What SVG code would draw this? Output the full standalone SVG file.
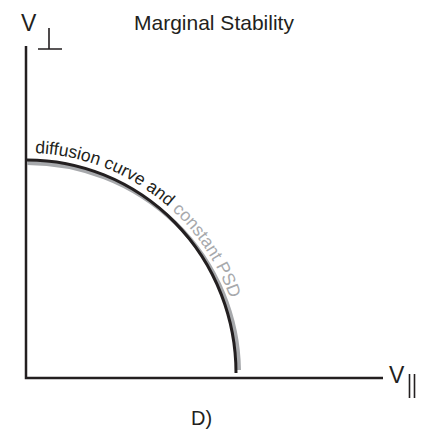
<svg xmlns="http://www.w3.org/2000/svg" width="422" height="431" viewBox="0 0 422 431">
<style>
.t{font-family:"Liberation Sans",Arial,sans-serif;fill:#231f20}
.axis{stroke:#231f20;stroke-width:2.5;fill:none}
.thin{stroke:#231f20;stroke-width:1.6;fill:none}
</style>
<defs>
<path id="tp" d="M27,153 A216,220 0 0 1 243,373"/>
</defs>
<rect width="422" height="431" fill="#fff"/>
<g id="title"><text class="t" x="134" y="30" font-size="21">Marginal Stability</text></g>
<g id="axes">
<path class="axis" d="M26,46 V378 H383"/>
</g>
<g id="vperp">
<text class="t" x="21" y="31" font-size="23">V</text>
<path class="thin" d="M49,28 V49 M38,49 H62"/>
</g>
<g id="vpar">
<text class="t" x="389" y="383" font-size="23">V</text>
<path class="thin" d="M409.5,374 V398 M414.5,374 V398"/>
</g>
<g id="curve">
<path d="M27,163 A212,210 0 0 1 239,370" stroke="#a7a9ac" stroke-width="4" fill="none"/>
<path d="M27,160 A209,213 0 0 1 236,373" stroke="#231f20" stroke-width="3" fill="none"/>
<text class="t" font-size="17.5"><textPath href="#tp" startOffset="8">diffusion curve and <tspan fill="#a7a9ac">constant PSD</tspan></textPath></text>
</g>
<g id="label"><text class="t" x="191" y="425" font-size="20">D)</text></g>
</svg>
